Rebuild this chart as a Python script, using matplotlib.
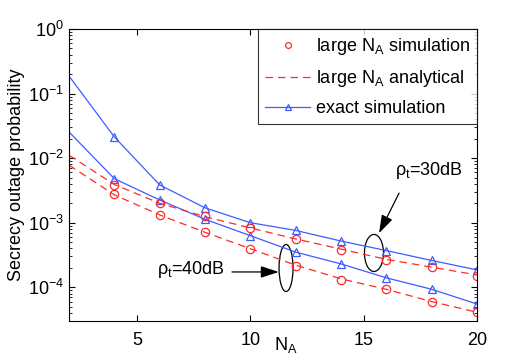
import numpy as np
import matplotlib
matplotlib.use("Agg")
import matplotlib.pyplot as plt
from matplotlib.patches import Ellipse
from matplotlib.ticker import LogLocator, NullFormatter, FixedLocator

plt.rcParams['font.family'] = ['Liberation Sans', 'DejaVu Sans']
plt.rcParams['mathtext.fontset'] = 'custom'
plt.rcParams['mathtext.rm'] = 'Liberation Sans'
plt.rcParams['mathtext.it'] = 'Liberation Sans'

# data
x_line = [2, 4, 6, 8, 10, 12, 14, 16, 18, 20]
x_pts = [4, 6, 8, 10, 12, 14, 16, 18, 20]

exact_30 = [0.187, 0.0213, 0.00385, 0.0017, 0.00100, 7.6e-4, 5.2e-4, 3.7e-4, 2.6e-4, 1.86e-4]
exact_40 = [0.0255, 0.0048, 0.00225, 0.00113, 6.3e-4, 3.5e-4, 2.3e-4, 1.4e-4, 9.3e-5, 5.5e-5]

sim_30 = [0.0038, 0.00205, 0.00127, 8.4e-4, 5.5e-4, 3.8e-4, 2.65e-4, 2.04e-4, 1.5e-4]
sim_40 = [0.00276, 0.00132, 7.1e-4, 3.9e-4, 2.17e-4, 1.3e-4, 9.4e-5, 6.0e-5, 4.1e-5]

ana_30 = [0.0111, 0.0039, 0.0020, 0.00124, 8.3e-4, 5.6e-4, 3.9e-4, 2.7e-4, 2.05e-4, 1.55e-4]
ana_40 = [0.0078, 0.0027, 0.00132, 7.1e-4, 3.95e-4, 2.2e-4, 1.35e-4, 9.3e-5, 6.0e-5, 4.1e-5]

blue = '#3d5cff'
red = '#ff2a2a'

fig = plt.figure(figsize=(5.26, 3.6), dpi=100)
ax = fig.add_axes([0.1312, 0.1083, 0.7756, 0.8111])

ax.plot(x_line, exact_30, '-', color=blue, lw=0.9, marker='^', ms=6, mfc='none', mew=0.9,
        markevery=list(range(1, len(x_line))), label='exact simulation')
ax.plot(x_line, exact_40, '-', color=blue, lw=0.9, marker='^', ms=6, mfc='none', mew=0.9,
        markevery=list(range(1, len(x_line))))
ax.plot(x_line, ana_30, '--', color=red, lw=0.9, dashes=(6, 4), label='large N$_\\mathrm{A}$ analytical')
ax.plot(x_line, ana_40, '--', color=red, lw=0.9, dashes=(6, 4))
ax.plot(x_pts, sim_30, 'o', color=red, ms=6, mfc='none', mew=0.9, label='large N$_\\mathrm{A}$ simulation')
ax.plot(x_pts, sim_40, 'o', color=red, ms=6, mfc='none', mew=0.9)

ax.set_yscale('log')
ax.set_xlim(2, 20)
ax.set_ylim(3e-5, 1)
ax.set_xticks([5, 10, 15, 20])
ax.yaxis.set_major_locator(FixedLocator([1e-4, 1e-3, 1e-2, 1e-1, 1]))
ax.yaxis.set_minor_locator(LogLocator(base=10, subs=np.arange(2, 10), numticks=20))
ax.yaxis.set_minor_formatter(NullFormatter())
ax.tick_params(which='both', direction='in', top=True, right=True, labelsize=13)
ax.tick_params(which='major', length=4, width=0.8)
ax.tick_params(which='minor', length=2, width=0.6)
ax.tick_params(axis='x', which='major', pad=8)
ax.set_xlabel('N$_\\mathrm{A}$', fontsize=13)
ax.xaxis.label.set_va('baseline')
ax.xaxis.set_label_coords(0.532, -0.099)
ax.set_ylabel('Secrecy outage probability', fontsize=13, labelpad=2)

handles, labels = ax.get_legend_handles_labels()
order = [2, 1, 0]
leg = ax.legend([handles[i] for i in order], [labels[i] for i in order], loc='upper right',
                fontsize=13, frameon=True, fancybox=False, edgecolor='black',
                borderaxespad=0, handlelength=2.5, handletextpad=0.3, borderpad=0.4,
                labelspacing=0.6, markerscale=0.7)
leg.get_frame().set_linewidth(0.8)

# annotations (positions in axes fraction)
ta = ax.transAxes
ax.add_patch(Ellipse((0.532, 0.1815), width=0.0343, height=0.161, transform=ta,
                     fill=False, ec='black', lw=0.9))
ax.add_patch(Ellipse((0.7475, 0.233), width=0.0466, height=0.127, transform=ta,
                     fill=False, ec='black', lw=0.9))
astyle = '-|>,head_length=0.55,head_width=0.18'
ax.annotate('', xy=(0.514, 0.168), xytext=(0.3995, 0.168), xycoords=ta, textcoords=ta,
            arrowprops=dict(arrowstyle=astyle, color='black', lw=0.9, mutation_scale=20,
                            shrinkA=0, shrinkB=0))
ax.text(0.2157, 0.161, '$\\rho_\\mathrm{t}$=40dB', fontsize=13, ha='left', va='baseline',
        transform=ta)
ax.annotate('', xy=(0.760, 0.301), xytext=(0.809, 0.438), xycoords=ta, textcoords=ta,
            arrowprops=dict(arrowstyle=astyle, color='black', lw=0.9, mutation_scale=20,
                            shrinkA=0, shrinkB=0))
ax.text(0.799, 0.50, '$\\rho_\\mathrm{t}$=30dB', fontsize=13, ha='left', va='baseline',
        transform=ta)

fig.savefig('out.png', dpi=100)
